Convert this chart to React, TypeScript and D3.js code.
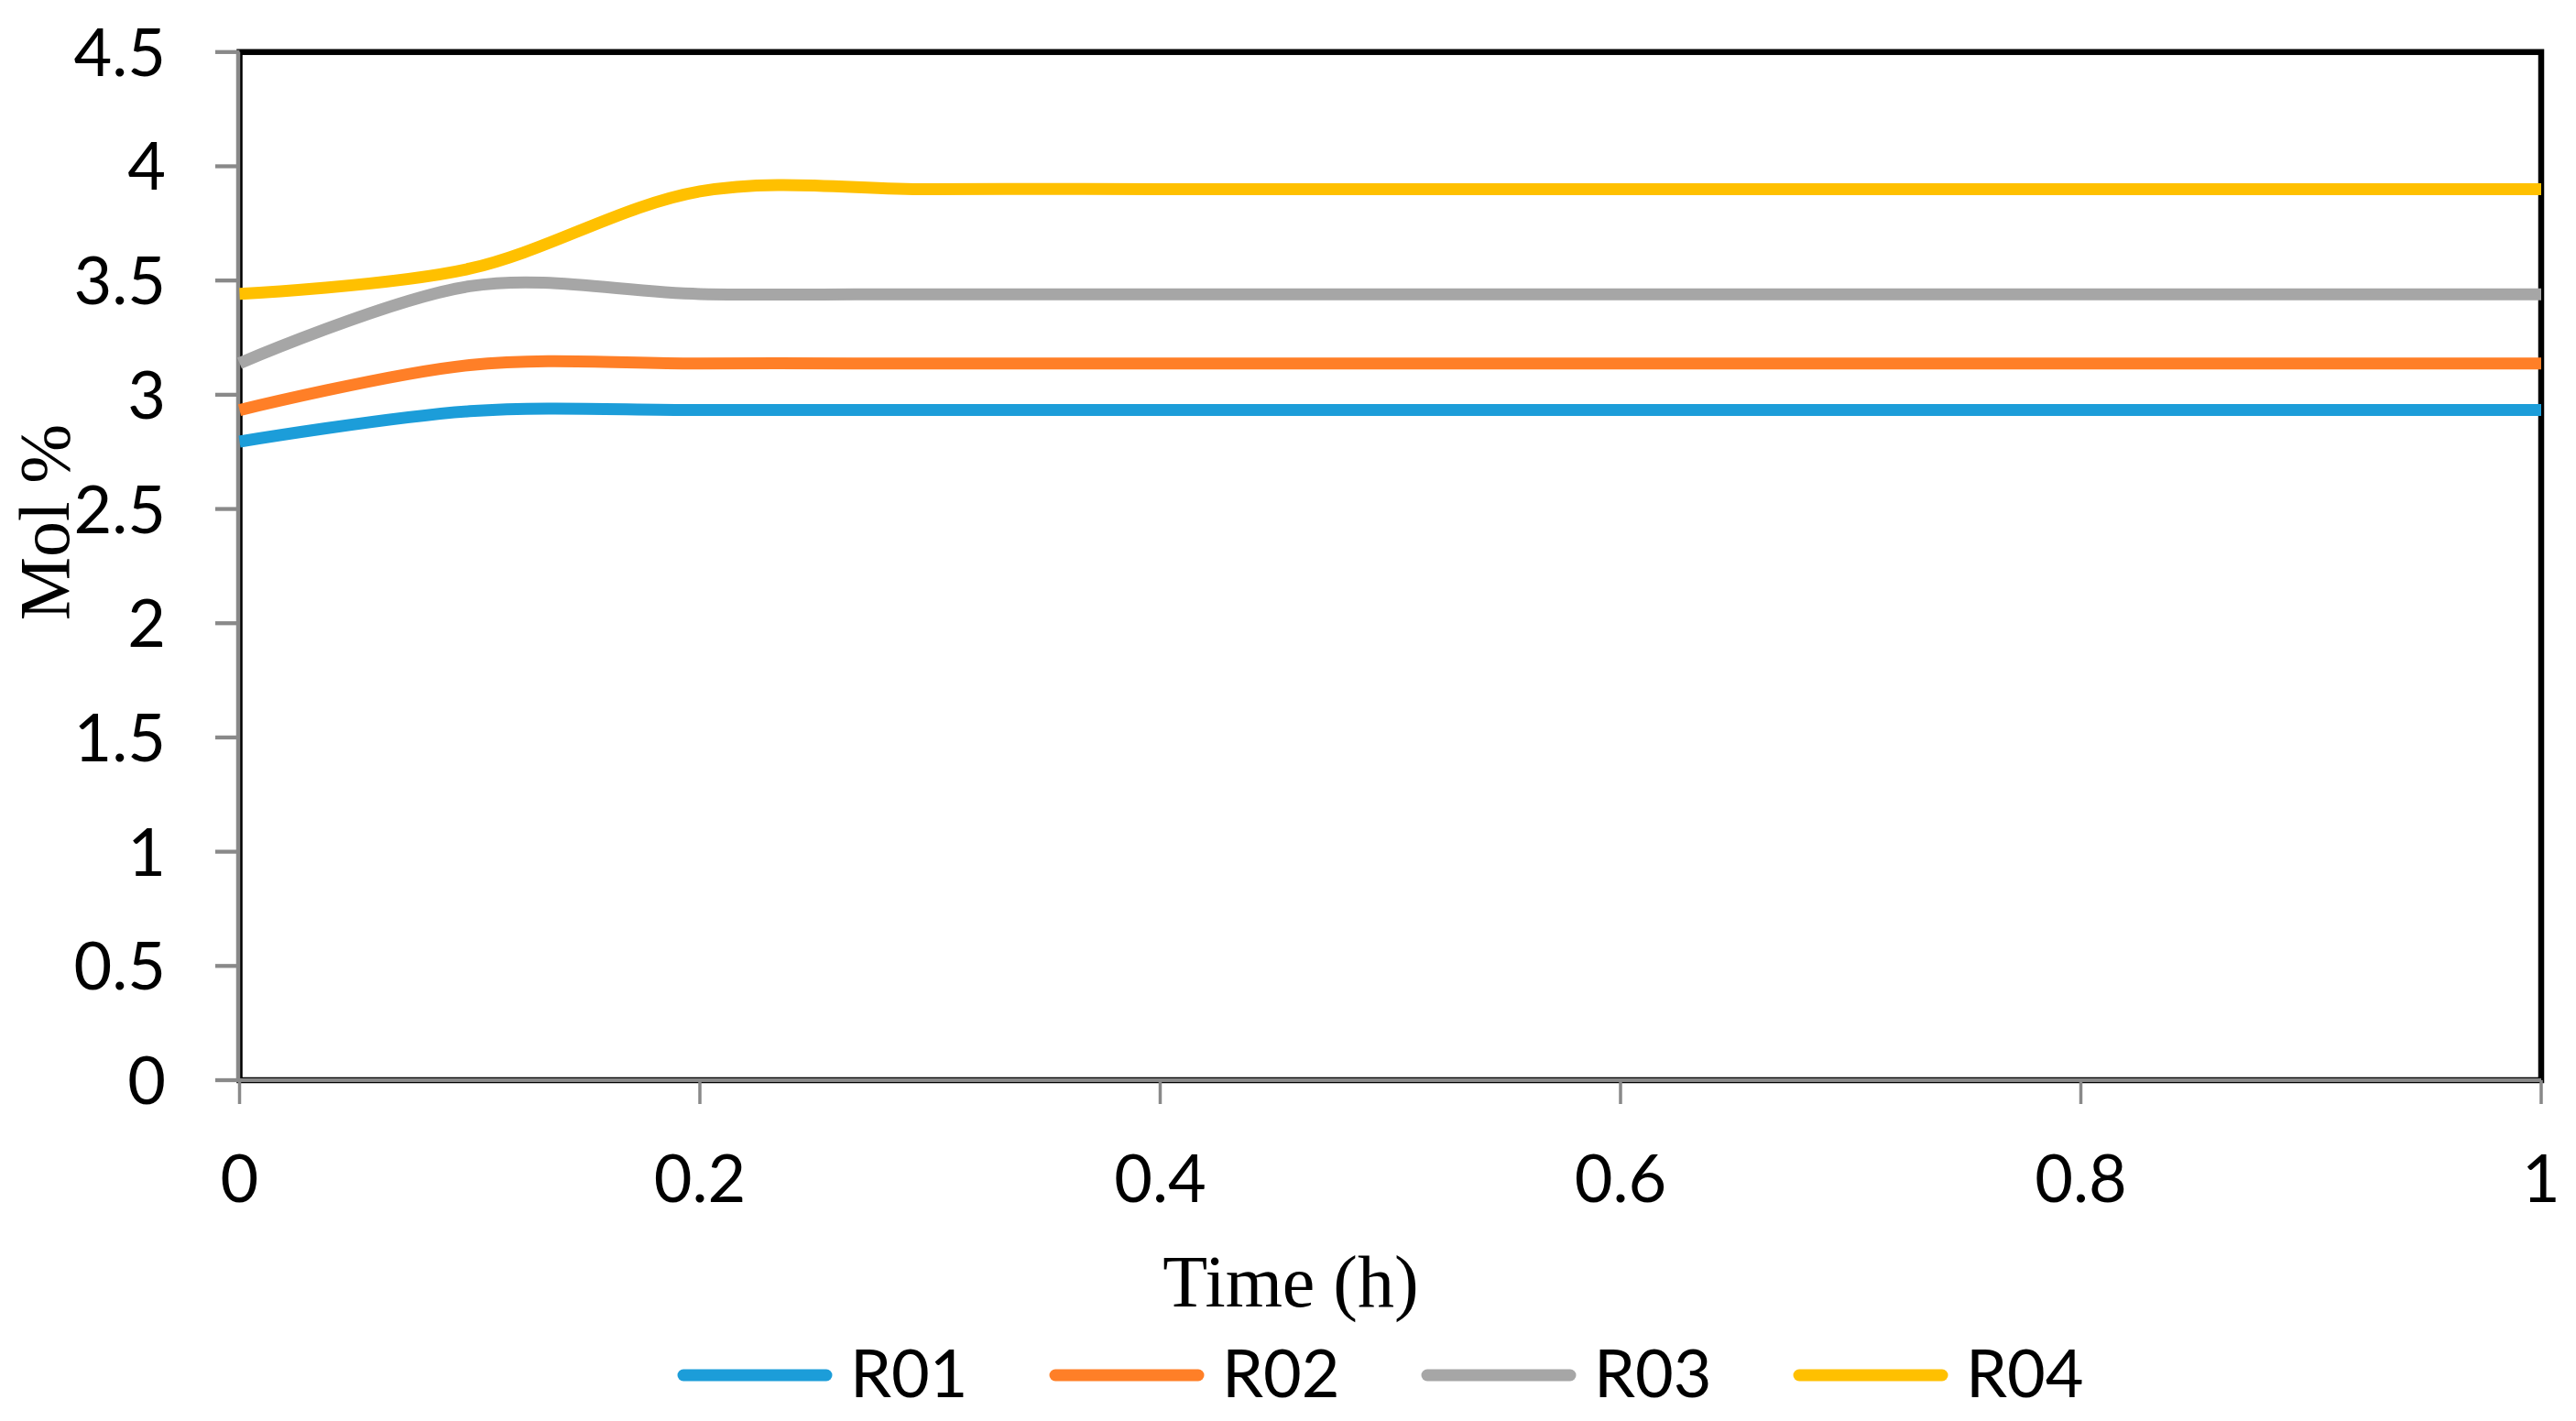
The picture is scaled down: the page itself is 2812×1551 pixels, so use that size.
import React from "react";
import * as d3 from "d3";

const times = [0, 0.1, 0.2, 0.3, 0.4, 0.5, 0.6, 0.7, 0.8, 0.9, 1.0];
const R01 = [2.795, 2.928, 2.933, 2.933, 2.933, 2.933, 2.933, 2.933, 2.933, 2.933, 2.933];
const R02 = [2.933, 3.13, 3.137, 3.137, 3.137, 3.137, 3.137, 3.137, 3.137, 3.137, 3.137];
const R03 = [3.138, 3.475, 3.441, 3.44, 3.44, 3.44, 3.44, 3.44, 3.44, 3.44, 3.44];
const R04 = [3.442, 3.552, 3.89, 3.9, 3.9, 3.9, 3.9, 3.9, 3.9, 3.9, 3.9];

const seriesNames = ["R01", "R02", "R03", "R04"];
const seriesValues = [R01, R02, R03, R04];
const seriesColors = ["#1C9DD9", "#FF7F27", "#A6A6A6", "#FFC000"];

const yTicks = [0, 0.5, 1, 1.5, 2, 2.5, 3, 3.5, 4, 4.5];
const xTicks = [0, 0.2, 0.4, 0.6, 0.8, 1];

const W = 2812;
const H = 1551;

export default function App() {
  const x = d3.scaleLinear().domain([0, 1]).range([261.5, 2774]);
  const y = d3.scaleLinear().domain([0, 4.5]).range([1179, 56.8]);

  const line = d3
    .line<number>()
    .x((_, i) => x(times[i]))
    .y((d) => y(d))
    .curve(d3.curveCatmullRom.alpha(0));

  const tickFont = "Lato, 'Open Sans', sans-serif";
  const serif = "'Liberation Serif', 'DejaVu Serif', serif";
  const axisGray = "#898989";

  const legendStart = 746;
  const legendStep = 406;

  return (
    <svg
      width={W}
      height={H}
      viewBox={`0 0 ${W} ${H}`}
      style={{ position: "absolute", left: 0, top: 0, background: "#fff" }}
    >
      <rect x={0} y={0} width={W} height={H} fill="#fff" />
      {/* plot border */}
      <rect
        x={x(0)}
        y={y(4.5)}
        width={x(1) - x(0)}
        height={y(0) - y(4.5)}
        fill="none"
        stroke="#000"
        strokeWidth={6.5}
      />
      {/* axis lines */}
      <line x1={x(0) - 1.5} x2={x(0) - 1.5} y1={y(4.5)} y2={y(0)} stroke={axisGray} strokeWidth={4.5} />
      <line x1={x(0)} x2={x(1)} y1={y(0)} y2={y(0)} stroke={axisGray} strokeWidth={4} />
      {/* y ticks */}
      {yTicks.map((t) => (
        <g key={"y" + t}>
          <line x1={235} x2={x(0)} y1={y(t)} y2={y(t)} stroke={axisGray} strokeWidth={4.3} />
          <text
            x={181}
            y={y(t) + 26}
            textAnchor="end"
            fontFamily={tickFont}
            fontSize={72}
            fill="#000"
          >
            {String(t)}
          </text>
        </g>
      ))}
      {/* x ticks */}
      {xTicks.map((t) => (
        <g key={"x" + t}>
          <line x1={x(t)} x2={x(t)} y1={y(0)} y2={y(0) + 26} stroke={axisGray} strokeWidth={3.5} />
          <text
            x={x(t)}
            y={1312}
            textAnchor="middle"
            fontFamily={tickFont}
            fontSize={72}
            fill="#000"
          >
            {String(t)}
          </text>
        </g>
      ))}
      {/* series */}
      {seriesValues.map((vals, i) => (
        <path
          key={seriesNames[i]}
          d={line(vals) || ""}
          fill="none"
          stroke={seriesColors[i]}
          strokeWidth={13}
          strokeLinecap="butt"
          strokeLinejoin="round"
        />
      ))}
      {/* axis titles */}
      <text x={1409} y={1426} textAnchor="middle" fontFamily={serif} fontSize={80} fill="#000">
        Time (h)
      </text>
      <text
        transform="translate(75,570) rotate(-90)"
        textAnchor="middle"
        fontFamily={serif}
        fontSize={78}
        fill="#000"
      >
        Mol %
      </text>
      {/* legend */}
      {seriesNames.map((name, i) => {
        const lx = legendStart + i * legendStep;
        return (
          <g key={"leg" + name}>
            <line
              x1={lx}
              x2={lx + 156}
              y1={1501}
              y2={1501}
              stroke={seriesColors[i]}
              strokeWidth={13}
              strokeLinecap="round"
            />
            <text x={lx + 182} y={1525} fontFamily={tickFont} fontSize={72} fill="#000">
              {name}
            </text>
          </g>
        );
      })}
    </svg>
  );
}
